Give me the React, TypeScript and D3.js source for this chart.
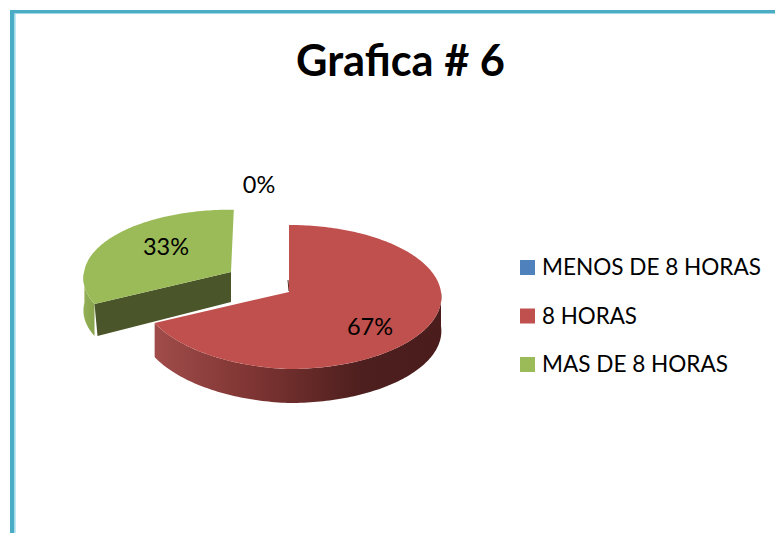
import React from "react";
import * as d3 from "d3";

const categories = ["MENOS DE 8 HORAS", "8 HORAS", "MAS DE 8 HORAS"];
const percentages = [0, 67, 33];
const tileColors = ["#4f81bd", "#c0504d", "#9bbb59"];

const W = 775, H = 533;
const FONT = "Lato, 'Open Sans', sans-serif";
const R = 152, A = 71.65, K = 0.0694, DEPTH = 34;

// slice placement: exploded apex, scale and small skews for each slice
const placement = [
  { cx: 289, cy: 292, sx: 1, sy: 1, left: 1, shear: 0, skew: 0, frontSkew: 0 },
  { cx: 289, cy: 292, sx: 1, sy: 1, left: 0.975, shear: 0.035, skew: 0, frontSkew: 0 },
  { cx: 231, cy: 272, sx: 0.965, sy: 0.93, left: 1, shear: 0.01, skew: -0.045, frontSkew: -0.11 },
];
const labelAt = [
  { x: 259, y: 184 },
  { x: 370, y: 326 },
  { x: 166, y: 246 },
];
const legendWidths = [219, 95, 186];

const pieGen = d3.pie<number>().sort(null).startAngle(0).endAngle(2 * Math.PI);
const arcs = pieGen(percentages);

function proj(i: number, a: number, r = 1, dz = 0): [number, number] {
  const p = placement[i];
  const u = Math.sin(a) * r;
  const v = -Math.cos(a) * r;
  const w = 1 - K * v;
  let x = (p.sx * R * u) / w;
  let y = (p.sy * A * v) / w;
  if (x < 0) { x *= p.left; y += p.shear * x; }
  x += (y > 0 ? p.frontSkew : p.skew) * y;
  return [p.cx + x, p.cy + y + dz];
}
function arcPts(i: number, a0: number, a1: number, dz = 0): [number, number][] {
  const n = Math.max(2, Math.ceil(Math.abs(a1 - a0) / 0.02));
  return d3.range(n + 1).map((k) => proj(i, a0 + ((a1 - a0) * k) / n, 1, dz));
}
const line = d3.line<[number, number]>();

const redTop = () => {
  const a = arcs[1];
  return line([proj(1, 0, 0), ...arcPts(1, a.startAngle, a.endAngle)]) + "Z";
};
const redSide = () => {
  const a = arcs[1];
  const s = Math.PI / 2;
  return line([...arcPts(1, s, a.endAngle), ...arcPts(1, a.endAngle, s, DEPTH)]) + "Z";
};
const greenTop = () => {
  const a = arcs[2];
  return line([proj(2, 0, 0), ...arcPts(2, a.startAngle, a.endAngle)]) + "Z";
};
const greenSide = () => {
  const a = arcs[2];
  const e = 1.5 * Math.PI;
  return line([...arcPts(2, a.startAngle, e), ...arcPts(2, e, a.startAngle, 32)]) + "Z";
};
const greenWall = () => {
  const a = arcs[2];
  const c = proj(2, a.startAngle);
  const o = proj(2, 0, 0);
  return line([o, c, [c[0] + 3, c[1] + 32], [o[0], o[1] + 30]]) + "Z";
};
const redInner = () => {
  const o = proj(1, 0, 0);
  return line([[o[0] - 1, o[1] - 12], [o[0], o[1] - 1]]) as string;
};

export default function App() {
  return (
    <svg width={W} height={H} style={{ position: "absolute", left: 0, top: 0 }} fontFamily={FONT}>
      <defs>
        <linearGradient id="redGrad" gradientUnits="userSpaceOnUse" x1={155} x2={441} y1={0} y2={0}>
          <stop offset="0" stopColor="#a04c4a" />
          <stop offset="0.35" stopColor="#7d3432" />
          <stop offset="0.72" stopColor="#4d1f1e" />
          <stop offset="1" stopColor="#4a1c1b" />
        </linearGradient>
        <linearGradient id="greenGrad" gradientUnits="userSpaceOnUse" x1={84} x2={98} y1={0} y2={0}>
          <stop offset="0" stopColor="#94b055" />
          <stop offset="1" stopColor="#84a04a" />
        </linearGradient>
      </defs>
      <rect x={0} y={0} width={W} height={H} fill="#fff" />
      <rect x={10} y={10} width={W - 10} height={3.5} fill="#4bacc6" />
      <rect x={10} y={10} width={4.5} height={H - 10} fill="#4bacc6" />
      <rect x={14.5} y={13.5} width={1.2} height={H - 13} fill="#a5dfee" />

      <text x={400.5} y={76} textAnchor="middle" fontSize={43} fontWeight={700} fill="#000" textLength={209} lengthAdjust="spacingAndGlyphs">Grafica # 6</text>

      <path d={greenSide()} fill="url(#greenGrad)" />
      <path d={greenWall()} fill="#4a5529" />
      <path d={greenTop()} fill={tileColors[2]} />

      <path d={redSide()} fill="url(#redGrad)" />
      <path d={redInner()} stroke="#5a2322" strokeWidth={1} fill="none" />
      <path d={redTop()} fill={tileColors[1]} />

      {percentages.map((v, i) => (
        <text key={i} x={labelAt[i].x} y={labelAt[i].y} textAnchor="middle" dominantBaseline="central" fontSize={23.5} fill="#000">
          {v}%
        </text>
      ))}

      {categories.map((c, i) => {
        const y = 260 + i * 48.5;
        return (
          <g key={c}>
            <rect x={520} y={y} width={15} height={15} fill={tileColors[i]} />
            <text x={542} y={y + 15} fontSize={23.5} fill="#000" textLength={legendWidths[i]} lengthAdjust="spacingAndGlyphs">{c}</text>
          </g>
        );
      })}
    </svg>
  );
}
